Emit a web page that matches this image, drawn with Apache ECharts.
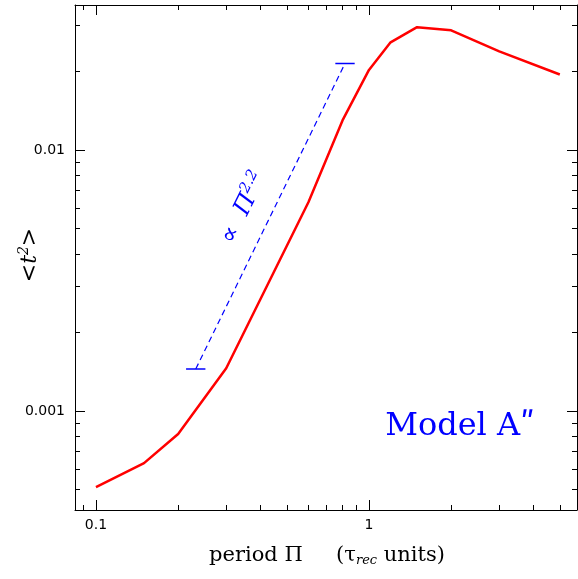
<!DOCTYPE html>
<html><head><meta charset="utf-8">
<script src="https://cdn.jsdelivr.net/npm/echarts@6/dist/echarts.min.js"></script>
<style>html,body{margin:0;padding:0;background:#fff}#c{width:578px;height:579px}</style>
</head><body><div id="c"></div>
<script>
const periods = [0.1, 0.15, 0.2, 0.3, 0.6, 0.8, 1.0, 1.2, 1.5, 2.0, 3.0, 5.0];
const t2 = [0.000512, 0.000632, 0.000817, 0.00146, 0.00632, 0.0130, 0.0203, 0.0259, 0.0296, 0.0288, 0.0239, 0.0195];
const fitX = [0.232, 0.817];
const fitY = [0.00145, 0.0215];
const xTicks = [0.1, 1];
const yTicks = [0.001, 0.01];

const chart = echarts.init(document.getElementById('c'));
const fmt = v => (xTicks.concat(yTicks).some(t => Math.abs(t - v) / t < 1e-6) ? String(v) : '');
const common = {
  type: 'log', logBase: 10,
  axisLine: { show: true, lineStyle: { color: '#000', width: 1 } },
  axisTick: { show: true, inside: true, length: 10, lineStyle: { color: '#000' } },
  minorTick: { show: true, splitNumber: 9, length: 5, lineStyle: { color: '#000' } },
  splitLine: { show: false }, minorSplitLine: { show: false }
};
const lbl = { formatter: fmt, color: '#000', fontSize: 14, fontFamily: 'DejaVu Sans', showMinLabel: false, showMaxLabel: false };
const capF = 1.085;
chart.setOption({
  animation: false,
  grid: { left: 75, right: 1, top: 5, bottom: 69 },
  xAxis: [
    Object.assign({}, common, { min: 0.0838, max: 5.78, position: 'bottom', axisLabel: Object.assign({ margin: 8 }, lbl) }),
    Object.assign({}, common, { min: 0.0838, max: 5.78, position: 'top', axisLabel: { show: false } })
  ],
  yAxis: [
    Object.assign({}, common, { min: 0.000418, max: 0.036, position: 'left', axisLabel: Object.assign({ margin: 10 }, lbl) }),
    Object.assign({}, common, { min: 0.000418, max: 0.036, position: 'right', axisLabel: { show: false } })
  ],
  series: [
    { type: 'line', data: periods.map((p, i) => [p, t2[i]]), showSymbol: false,
      lineStyle: { color: '#ff0000', width: 2.5 } },
    { type: 'line', data: fitX.map((p, i) => [p, fitY[i]]), showSymbol: false,
      lineStyle: { color: '#0000ff', width: 1.2, type: [6, 4] } },
    { type: 'line', data: [[fitX[0] / capF, fitY[0]], [fitX[0] * capF, fitY[0]]], showSymbol: false, lineStyle: { color: '#0000ff', width: 1.5 } },
    { type: 'line', data: [[fitX[1] / capF, fitY[1]], [fitX[1] * capF, fitY[1]]], showSymbol: false, lineStyle: { color: '#0000ff', width: 1.5 } }
  ],
  graphic: [
    { type: 'text', x: 244, y: 208, rotation: 64 * Math.PI / 180,
      style: { text: '∝  {i|Π}{s|2.2}', fill: '#0000ff', font: '24px "DejaVu Serif"', align: 'center', verticalAlign: 'middle',
        rich: { i: { fontSize: 24, fontStyle: 'italic', fontFamily: 'DejaVu Serif', fill: '#0000ff' }, s: { fontSize: 15, fontStyle: 'italic', fontFamily: 'DejaVu Serif', fill: '#0000ff', verticalAlign: 'top', padding: [0, 0, 14, 0] } } } },
    { type: 'text', x: 460, y: 427,
      style: { text: 'Model A\u02ba', fill: '#0000ff', font: '32px "DejaVu Serif"', align: 'center', verticalAlign: 'middle' } },
    { type: 'text', x: 327, y: 556,
      style: { text: 'period Π     (τ{s|rec} units)', fill: '#000', font: '21px "DejaVu Serif"', align: 'center', verticalAlign: 'middle',
        rich: { s: { fontSize: 13, fontStyle: 'italic', fontFamily: 'DejaVu Serif', padding: [10, 0, 0, 0] } } } },
    { type: 'text', x: 30, y: 255, rotation: Math.PI / 2,
      style: { text: '<t{s|2}>', fill: '#000', font: 'italic 22px "DejaVu Serif"', align: 'center', verticalAlign: 'middle',
        rich: { s: { fontSize: 14, fontStyle: 'italic', fontFamily: 'DejaVu Serif', padding: [0, 0, 12, 0] } } } }
  ]
});
</script></body></html>
